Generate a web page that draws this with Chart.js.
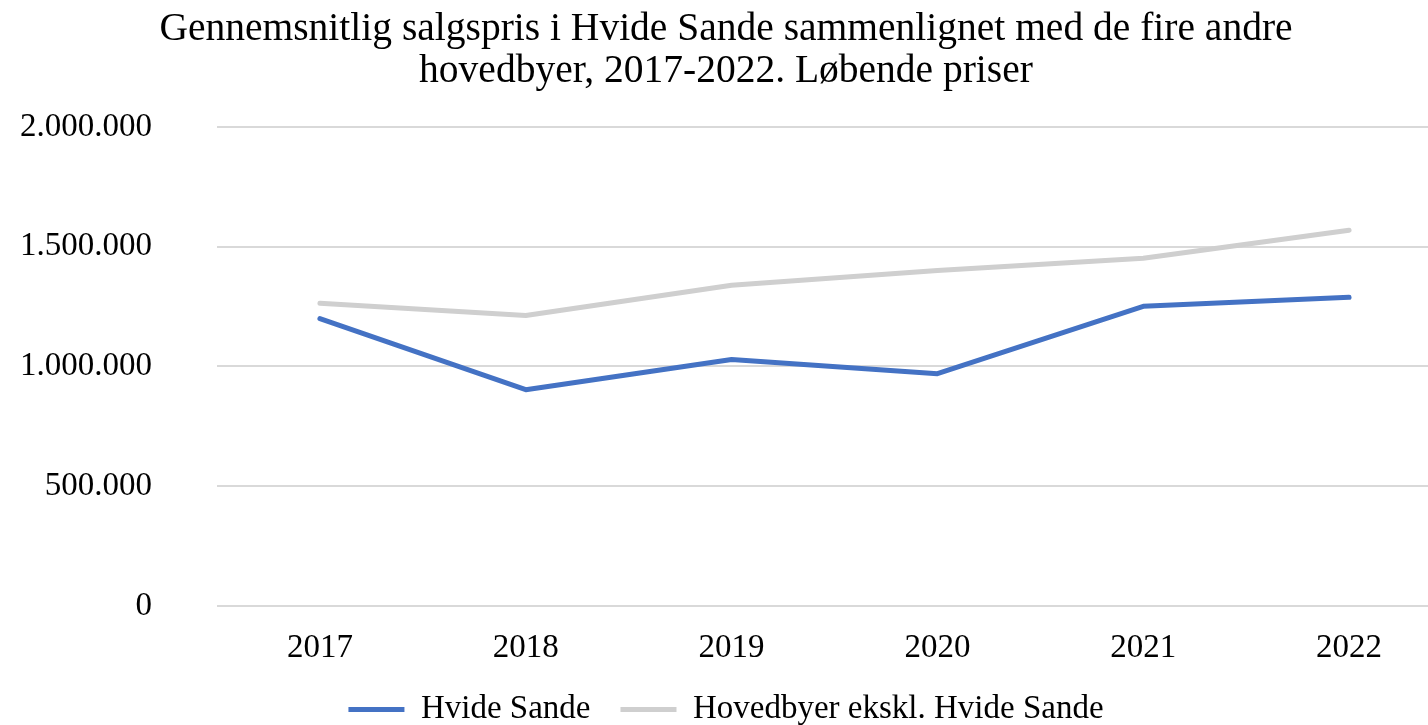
<!DOCTYPE html>
<html>
<head>
<meta charset="utf-8">
<script src="https://cdn.jsdelivr.net/npm/chart.js@4"></script>
<style>
  html, body { margin: 0; padding: 0; background: #fff; overflow: hidden; }
  #wrap { width: 1452px; height: 736px; }
</style>
</head>
<body>
<div id="wrap"><canvas id="chart"></canvas></div>
<script>
// Data
const years = ['2017', '2018', '2019', '2020', '2021', '2022'];
const hvideSande = [1200000, 903000, 1029000, 970000, 1251000, 1289000];
const hovedbyer = [1264000, 1213000, 1339000, 1401000, 1452000, 1569000];
const yTicks = [0, 500000, 1000000, 1500000, 2000000];
const titleLines = [
  'Gennemsnitlig salgspris i Hvide Sande sammenlignet med de fire andre',
  'hovedbyer, 2017-2022. Løbende priser'
];

const FONT = 'Liberation Serif, Times New Roman, serif';

// 1000000 -> 1.000.000
function formatDk(v) {
  return String(v).replace(/\B(?=(\d{3})+(?!\d))/g, '.');
}

new Chart(document.getElementById('chart'), {
  type: 'line',
  data: {
    labels: years,
    datasets: [
      {
        label: 'Hvide Sande',
        data: hvideSande,
        borderColor: '#4472C4',
        backgroundColor: '#4472C4',
        borderWidth: 5,
        pointRadius: 0,
        borderCapStyle: 'round',
        borderJoinStyle: 'round',
        tension: 0
      },
      {
        label: 'Hovedbyer ekskl. Hvide Sande',
        data: hovedbyer,
        borderColor: '#CFCFCF',
        backgroundColor: '#CFCFCF',
        borderWidth: 5,
        pointRadius: 0,
        borderCapStyle: 'round',
        borderJoinStyle: 'round',
        tension: 0
      }
    ]
  },
  options: {
    responsive: true,
    maintainAspectRatio: false,
    animation: false,
    layout: { padding: 0 },
    plugins: {
      title: {
        display: true,
        text: titleLines,
        color: '#000',
        font: { family: FONT, size: 39.5, weight: 'normal', lineHeight: 1.063 },
        padding: { top: 9, bottom: 34 }
      },
      legend: {
        position: 'bottom',
        labels: {
          color: '#000',
          font: { family: FONT, size: 33 },
          boxWidth: 56,
          boxHeight: 5,
          padding: 30,
          generateLabels: (chart) => chart.data.datasets.map((ds, i) => ({
            text: ds.label,
            fillStyle: ds.borderColor,
            strokeStyle: ds.borderColor,
            lineWidth: 0,
            fontColor: '#000',
            datasetIndex: i
          }))
        }
      },
      tooltip: { enabled: false }
    },
    scales: {
      x: {
        offset: true,
        grid: { display: false },
        border: { display: false },
        ticks: { color: '#000', font: { family: FONT, size: 33 }, padding: 15, maxRotation: 0 },
        afterFit: (axis) => { axis.height = 57; }
      },
      y: {
        min: 0,
        max: 2000000,
        afterBuildTicks: (axis) => { axis.ticks = yTicks.map(v => ({ value: v })); },
        afterFit: (axis) => { axis.width = 217; },
        grid: { color: '#D9D9D9', lineWidth: 2, drawTicks: false },
        border: { display: false },
        ticks: {
          color: '#000',
          font: { family: FONT, size: 33 },
          padding: 65,
          callback: (v) => formatDk(v)
        }
      }
    }
  }
});
</script>
</body>
</html>
